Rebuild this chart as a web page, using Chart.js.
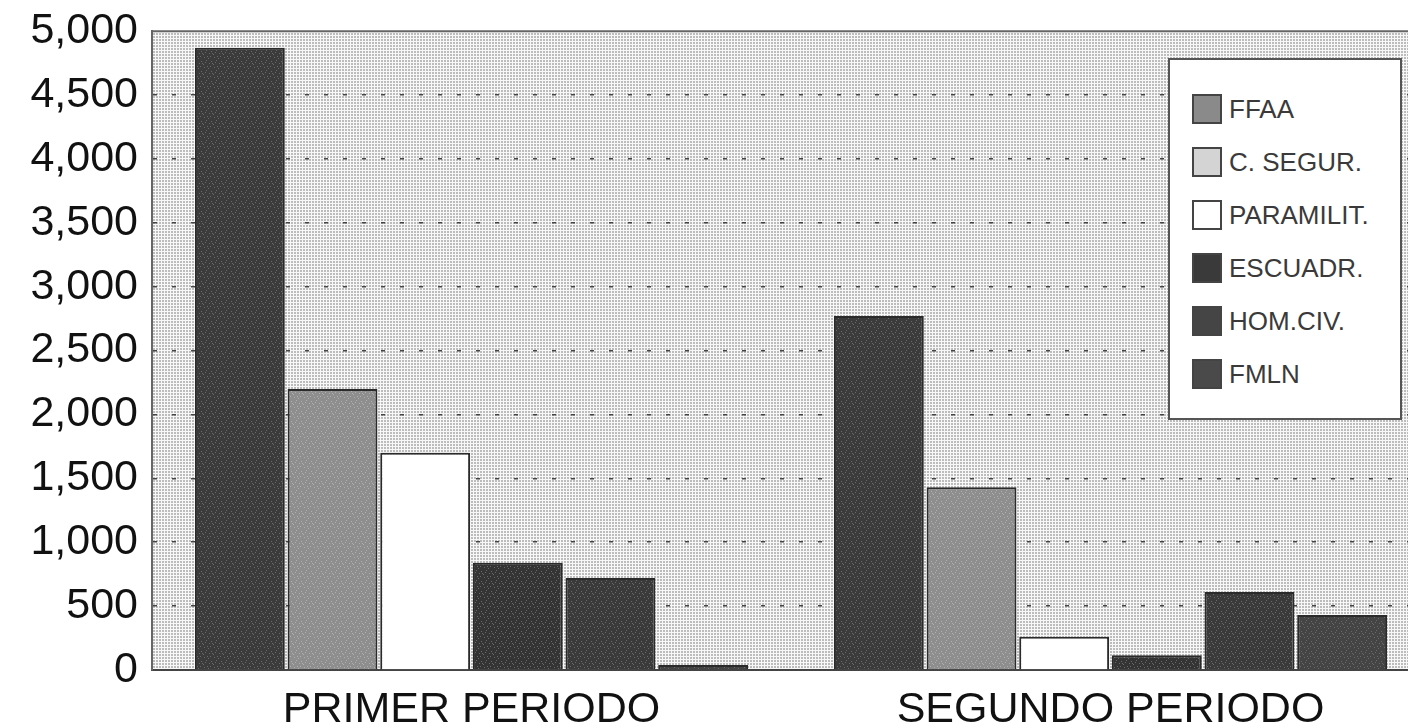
<!DOCTYPE html>
<html>
<head>
<meta charset="utf-8">
<script src="https://cdn.jsdelivr.net/npm/chart.js@4.4.1/dist/chart.umd.min.js"></script>
<style>
  html, body { margin: 0; padding: 0; background: #fff; overflow: hidden; }
  #wrap { position: relative; width: 1408px; height: 728px; overflow: hidden; }
  #chart { position: absolute; left: 0; top: 0; }
  #legend {
    position: absolute; left: 1168px; top: 58px; width: 234px; height: 362px;
    background: #fff; border: 2px solid #555; box-sizing: border-box;
    font-family: "Liberation Sans", Arial, sans-serif; font-size: 26px; color: #3a3a3a;
  }
  .item { position: absolute; left: 22px; height: 30px; display: flex; align-items: center; }
  .swatch { width: 30px; height: 30px; border: 2px solid #444; box-sizing: border-box; margin-right: 7px; }
</style>
</head>
<body>
<div id="wrap">
  <canvas id="chart" width="1430" height="728"></canvas>
  <div id="legend"></div>
</div>
<script>
// categories and series
const categories = ['PRIMER PERIODO', 'SEGUNDO PERIODO'];
const seriesNames = ['FFAA', 'C. SEGUR.', 'PARAMILIT.', 'ESCUADR.', 'HOM.CIV.', 'FMLN'];
const ffaa = [4870, 2770];
const cSegur = [2200, 1430];
const paramilit = [1700, 260];
const escuadr = [840, 115];
const homCiv = [720, 610];
const fmln = [40, 430];
const yTicks = [0, 500, 1000, 1500, 2000, 2500, 3000, 3500, 4000, 4500, 5000];

const seriesValues = [ffaa, cSegur, paramilit, escuadr, homCiv, fmln];
const barColors = ['#3b3b3b', '#8e8e8e', '#ffffff', '#343434', '#3a3a3a', '#444444'];
const swatchColors = ['#8a8a8a', '#d4d4d4', '#ffffff', '#3a3a3a', '#454545', '#4a4a4a'];

// fixed speckle layout for the printed texture
const speckle = [[1,1],[5,2],[3,4],[7,6],[0,6],[4,7],[6,0],[2,3],[8,8],[9,3]];

function makeTexture(base, dot) {
    const c = document.createElement('canvas');
    c.width = 10; c.height = 10;
    const g = c.getContext('2d');
    g.fillStyle = base;
    g.fillRect(0, 0, 10, 10);
    if (dot) {
        g.fillStyle = dot;
        speckle.forEach(([x, y]) => g.fillRect(x, y, 1, 1));
    }
    return g.createPattern(c, 'repeat');
}

function makeHalftone() {
    const c = document.createElement('canvas');
    c.width = 3; c.height = 3;
    const g = c.getContext('2d');
    g.fillStyle = '#f8f8f8';
    g.fillRect(0, 0, 3, 3);
    g.fillStyle = '#bcbcbc';
    g.fillRect(0, 0, 2, 2);
    return g.createPattern(c, 'repeat');
}

const ctx = document.getElementById('chart').getContext('2d');
const halftone = makeHalftone();

const fills = barColors.map((col, i) => {
    if (i === 2) return col;
    return makeTexture(col, i === 1 ? '#b0b0b0' : '#6a6a6a');
});

// plot background and top frame
const plotFrame = {
    id: 'plotFrame',
    beforeDraw(chart) {
        const { ctx, chartArea: a } = chart;
        ctx.save();
        ctx.fillStyle = halftone;
        ctx.fillRect(a.left, a.top, a.right - a.left, a.bottom - a.top);
        ctx.restore();
    },
    afterDraw(chart) {
        const { ctx, chartArea: a } = chart;
        ctx.save();
        ctx.strokeStyle = '#666';
        ctx.lineWidth = 2;
        ctx.beginPath();
        ctx.moveTo(a.left, a.top);
        ctx.lineTo(a.right, a.top);
        ctx.stroke();
        ctx.restore();
    }
};

const chart = new Chart(ctx, {
    type: 'bar',
    data: {
        labels: categories,
        datasets: seriesNames.map((name, i) => ({
            label: name,
            data: seriesValues[i],
            backgroundColor: fills[i],
            borderColor: '#2a2a2a',
            borderWidth: 2,
            borderSkipped: 'bottom',
            categoryPercentage: 0.87,
            barPercentage: 0.97
        }))
    },
    options: {
        responsive: false,
        animation: false,
        layout: { padding: { top: 29, right: 0, left: 0, bottom: 0 } },
        plugins: {
            legend: { display: false },
            tooltip: { enabled: false }
        },
        scales: {
            x: {
                grid: { display: false },
                border: { color: '#444', width: 2 },
                ticks: {
                    color: '#111',
                    padding: 6,
                    font: { family: '"Liberation Sans", Arial, sans-serif', size: 43 }
                },
                afterFit: (scale) => { scale.height = 58; }
            },
            y: {
                min: 0,
                max: 5000,
                afterBuildTicks: (scale) => { scale.ticks = yTicks.map(v => ({ value: v })); },
                grid: {
                    drawTicks: false,
                    lineWidth: 1.5,
                    color: (c) => (c.tick && (c.tick.value === 0 || c.tick.value === 5000)) ? 'rgba(0,0,0,0)' : '#444'
                },
                border: { color: '#666', width: 2, dash: [4, 15] },
                ticks: {
                    color: '#111',
                    padding: 14,
                    font: { family: '"Liberation Sans", Arial, sans-serif', size: 43, lineHeight: 0.8 },
                    callback: (v) => Number(v).toLocaleString('en-US')
                },
                afterFit: (scale) => { scale.width = 152; }
            }
        }
    },
    plugins: [plotFrame]
});

// legend box
const legend = document.getElementById('legend');
seriesNames.forEach((name, i) => {
    const row = document.createElement('div');
    row.className = 'item';
    row.style.top = (34 + i * 53) + 'px';
    row.innerHTML = `<span class="swatch" style="background:${swatchColors[i]}"></span><span>${name}</span>`;
    legend.appendChild(row);
});
</script>
</body>
</html>
